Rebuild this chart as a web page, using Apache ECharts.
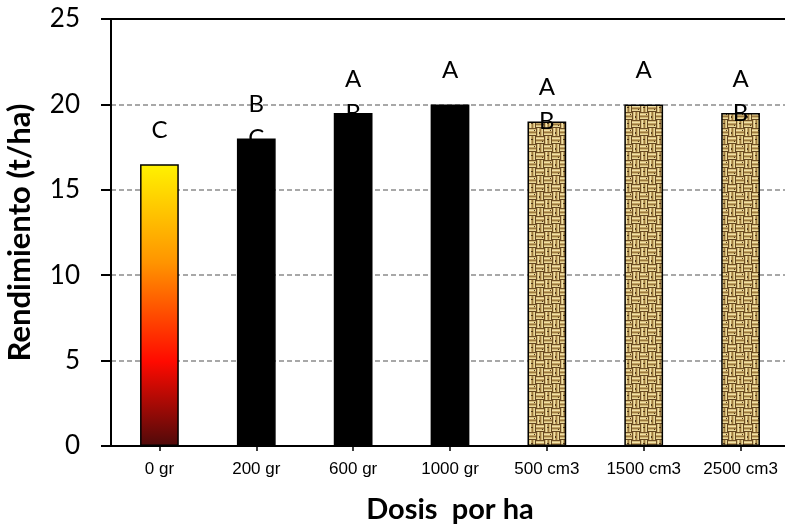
<!DOCTYPE html>
<html><head><meta charset="utf-8">
<script src="https://cdn.jsdelivr.net/npm/echarts@6/dist/echarts.min.js"></script>
<style>html,body{margin:0;padding:0;background:#fff}#c{width:785px;height:530px}</style>
</head><body><div id="c"></div>
<script>
// ---- data ----
const categories = ['0 gr', '200 gr', '600 gr', '1000 gr', '500 cm3', '1500 cm3', '2500 cm3'];
const rendimiento = [16.5, 18, 19.5, 20, 19, 20, 19.5];
const letraSuperior = ['C', 'B', 'A', 'A', 'A', 'A', 'A'];
const letraInferior = ['', 'C', 'B', '', 'B', '', 'B'];
const fillKind = ['gradient', 'black', 'black', 'black', 'texture', 'texture', 'texture'];
const yMin = 0, yMax = 25, yStep = 5;

// ---- burlap-like texture ----
function makeWeave() {
  const s = 16, cv = document.createElement('canvas');
  cv.width = s; cv.height = s;
  const g = cv.getContext('2d');
  g.fillStyle = '#ad8a4c'; g.fillRect(0, 0, s, s);
  const rows = ['#6f5026', '#d6bd7c', '#f0e0a6', '#c3a463', '#9a783f', '#d2b874', '#ead89a', '#654720'];
  function block(x0, y0, horiz) {
    for (let k = 0; k < 8; k++) {
      g.fillStyle = rows[k];
      if (horiz) g.fillRect(x0, y0 + k, 8, 1); else g.fillRect(x0 + k, y0, 1, 8);
    }
  }
  block(0, 0, true); block(8, 8, true); block(8, 0, false); block(0, 8, false);
  g.fillStyle = '#4e3618';
  g.fillRect(3, 11, 2, 1); g.fillRect(11, 4, 1, 2); g.fillRect(14, 13, 1, 1); g.fillRect(6, 2, 1, 1);
  return cv;
}
const weave = makeWeave();

const gradient = new echarts.graphic.LinearGradient(0, 0, 0, 1, [
  { offset: 0, color: '#fff200' },
  { offset: 0.35, color: '#ff9400' },
  { offset: 0.7, color: '#ff0a00' },
  { offset: 1, color: '#4f0a0a' }
]);
function fillFor(kind) {
  if (kind === 'gradient') return gradient;
  if (kind === 'black') return '#000';
  return { image: weave, repeat: 'repeat' };
}

const barData = rendimiento.map((v, i) => ({
  value: v,
  itemStyle: { color: fillFor(fillKind[i]), borderColor: '#000', borderWidth: 1.5 }
}));

const chart = echarts.init(document.getElementById('c'), null, { renderer: 'canvas' });
chart.setOption({
  animation: false,
  backgroundColor: '#fff',
  grid: { left: 111, top: 19, width: 678, height: 427, containLabel: false, outerBoundsMode: 'none' },
  xAxis: [{
    type: 'category',
    data: categories,
    axisLine: { show: true, lineStyle: { color: '#000', width: 2 } },
    axisTick: { show: true, alignWithLabel: true, length: 5, lineStyle: { color: '#000', width: 1.5 } },
    axisLabel: { interval: 0, color: '#000', fontFamily: '"Liberation Sans", Arial, sans-serif', fontSize: 17, margin: 15 },
    name: 'Dosis  por ha',
    nameLocation: 'middle',
    nameGap: 49,
    nameTextStyle: { color: '#000', fontFamily: 'Lato', fontWeight: 'bold', fontSize: 29 }
  }, {
    type: 'category',
    data: categories,
    position: 'top',
    axisLine: { show: true, lineStyle: { color: '#000', width: 2 } },
    axisTick: { show: false },
    axisLabel: { show: false },
    silent: true
  }],
  yAxis: {
    type: 'value',
    min: yMin, max: yMax, interval: yStep,
    axisLine: { show: true, lineStyle: { color: '#000', width: 2 } },
    axisTick: { show: true, length: 10, lineStyle: { color: '#000', width: 2 } },
    axisLabel: { color: '#000', fontFamily: 'Lato', fontSize: 26, margin: 31 },
    splitLine: { show: true, lineStyle: { color: '#8c8c8c', width: 1.5, type: [5, 3] } },
    name: 'Rendimiento (t/ha)',
    nameLocation: 'middle',
    nameGap: 76,
    nameTextStyle: { color: '#000', fontFamily: 'Lato', fontWeight: 'bold', fontSize: 31 }
  },
  series: [{
    type: 'bar',
    xAxisIndex: 0,
    data: barData,
    barWidth: '40%',
    label: {
      show: true,
      position: 'top',
      distance: 0,
      offset: [0, 17],
      lineHeight: 34,
      fontFamily: 'Lato',
      fontSize: 24,
      color: '#000',
      formatter: p => letraSuperior[p.dataIndex] + '\n' + (letraInferior[p.dataIndex] || ' ')
    }
  }]
});
</script>
</body></html>
